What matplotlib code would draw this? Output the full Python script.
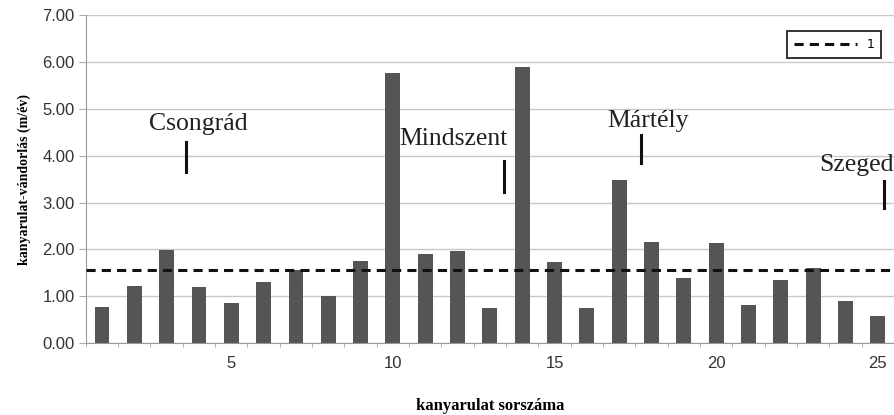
import matplotlib
matplotlib.use("Agg")
import matplotlib.pyplot as plt
import numpy as np

bend_no = list(range(1, 26))
migration = [0.78, 1.23, 1.98, 1.19, 0.85, 1.30, 1.57, 1.00, 1.75, 5.76,
             1.90, 1.96, 0.76, 5.88, 1.73, 0.76, 3.49, 2.16, 1.39, 2.13,
             0.81, 1.35, 1.60, 0.91, 0.58]
mean_value = 1.56
x_ticks = [5, 10, 15, 20, 25]
y_ticks = [0, 1, 2, 3, 4, 5, 6, 7]
places = ["Csongrád", "Mindszent", "Mártély", "Szeged"]
place_text_x = [3.98, 11.88, 17.9, 23.2]
place_text_y = [4.67, 4.35, 4.73, 3.79]
place_line_x = [3.61, 13.43, 17.66, 25.2]
place_line_y0 = [3.66, 3.23, 3.85, 2.89]
place_line_y1 = [4.28, 3.88, 4.45, 3.45]

fig = plt.figure(figsize=(8.94, 4.15), dpi=100)
ax = fig.add_axes([0.096, 0.173, 0.904, 0.791])

ax.bar(bend_no, migration, width=0.46, color="#555555", zorder=3)
ax.axhline(mean_value, color="#111111", lw=2.2, ls=(0, (3, 2)), zorder=4, label="1")

ax.set_xlim(0.55, 25.4)
ax.set_ylim(0, 7)
ax.set_yticks(y_ticks)
ax.set_yticklabels([f"{v:.2f}" for v in y_ticks], fontsize=12, color="#333333",
                   family="Liberation Sans")
ax.set_xticks(x_ticks)
ax.set_xticklabels([str(v) for v in x_ticks], fontsize=12, color="#333333",
                   family="Liberation Sans")
ax.set_xticks(np.arange(0.5, 25.6, 1), minor=True)
ax.tick_params(axis="x", which="major", length=0, pad=9)
ax.tick_params(axis="x", which="minor", length=3, color="#aaaaaa")
ax.tick_params(axis="y", length=5, color="#aaaaaa", pad=3)
ax.grid(axis="y", color="#c8c8c8", lw=1.0, zorder=0)
for s in ["top", "right"]:
    ax.spines[s].set_visible(False)
ax.spines["left"].set_color("#999999")
ax.spines["bottom"].set_color("#999999")

for name, tx, ty, lx, y0, y1 in zip(places, place_text_x, place_text_y,
                                    place_line_x, place_line_y0, place_line_y1):
    ha = "left" if name == "Szeged" else "center"
    ax.text(tx, ty, name, family="Liberation Serif", fontsize=18.5, ha=ha,
            va="center", color="#222222", zorder=5, clip_on=False)
    ax.plot([lx, lx], [y0, y1], color="#111111", lw=2.2, zorder=5, clip_on=False)

ax.set_ylabel("kanyarulat-vándorlás (m/év)", family="Liberation Serif",
              fontweight="bold", fontsize=10, labelpad=8)
ax.set_xlabel("kanyarulat sorszáma", family="Liberation Serif",
              fontweight="bold", fontsize=12, labelpad=20)

leg = ax.legend(loc="upper right", bbox_to_anchor=(0.992, 0.97), fontsize=9,
                handlelength=5, fancybox=False, edgecolor="#333333",
                framealpha=1, borderpad=0.55, handletextpad=0.8)
leg.get_frame().set_linewidth(1.4)

fig.savefig("out.png", dpi=100)
